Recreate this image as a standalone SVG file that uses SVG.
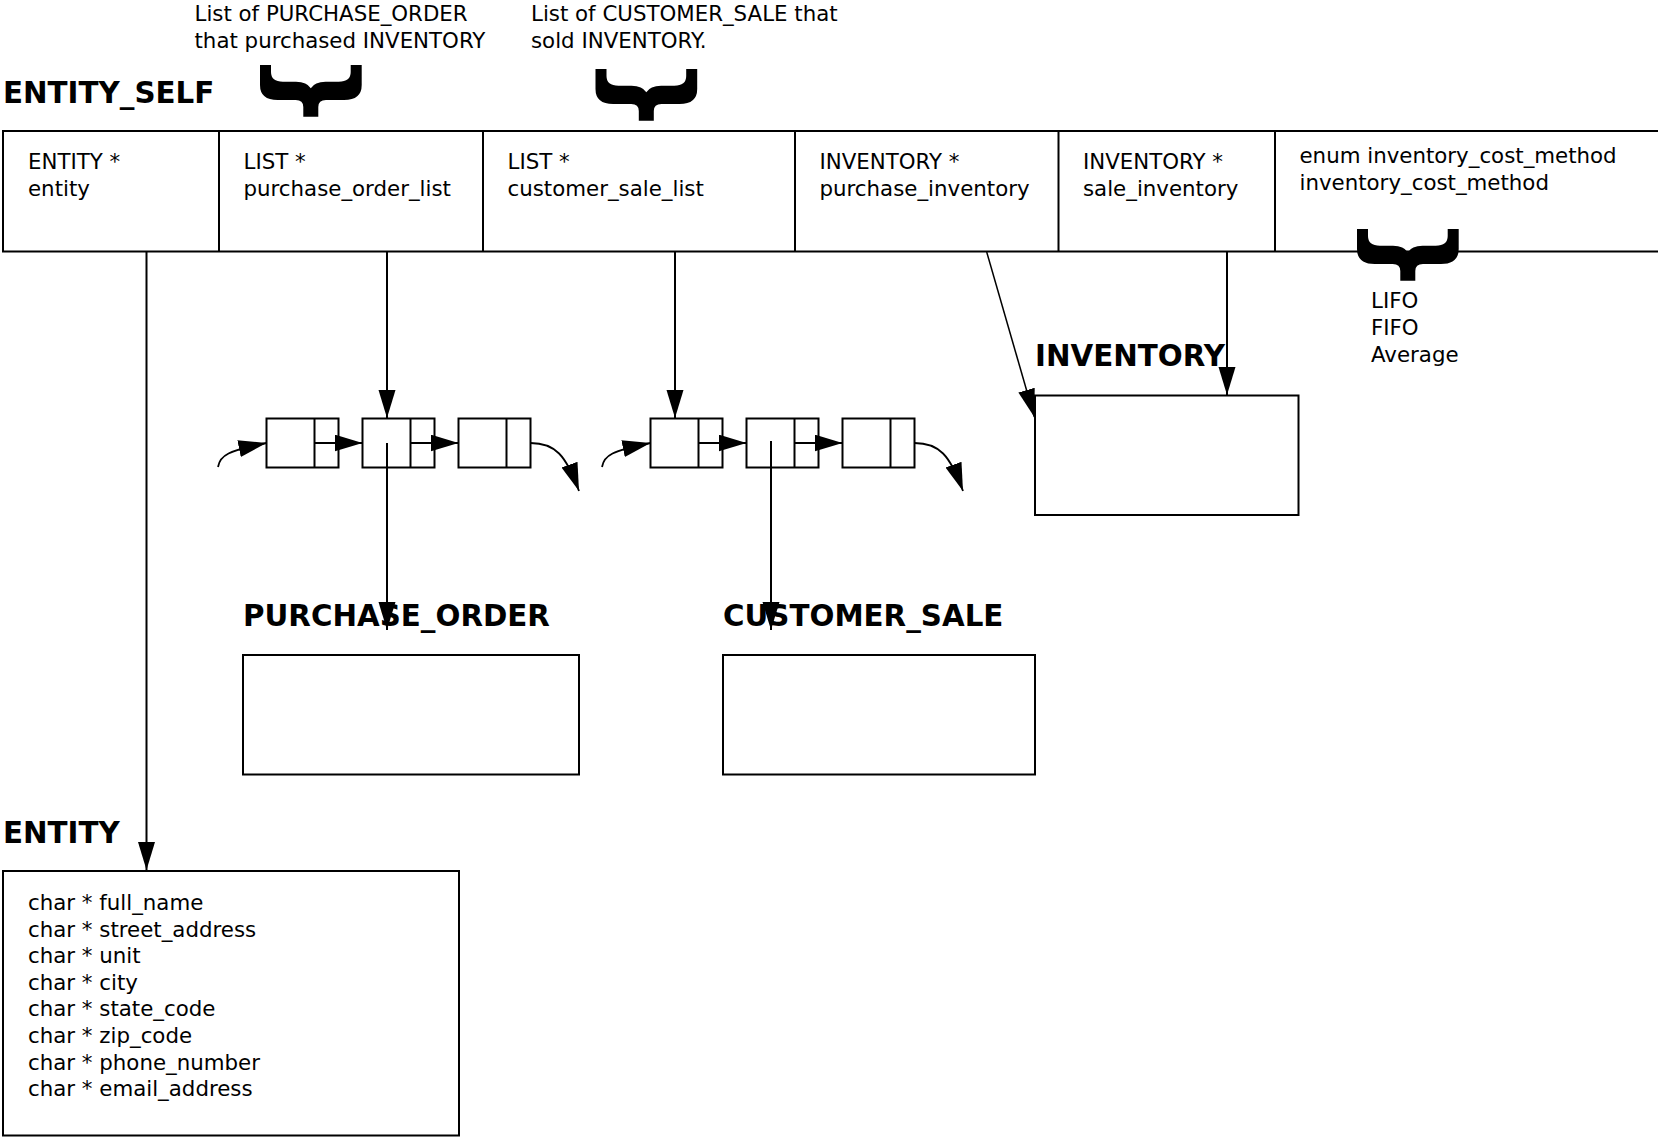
<svg xmlns="http://www.w3.org/2000/svg" width="1658" height="1137" viewBox="0 0 1658 1137">
<style>
text{font-family:"DejaVu Sans","Liberation Sans",sans-serif;fill:#000}
.t{font-size:21.33px}
.h{font-size:29.33px;font-weight:bold}
.box{fill:#fff;stroke:#000;stroke-width:2}
.ln{fill:none;stroke:#000;stroke-width:2}
.c{fill:none;stroke:#000;stroke-width:1.8}
.brace{fill:#000}
</style>
<defs>
<marker id="arr" markerUnits="userSpaceOnUse" markerWidth="30" markerHeight="18" refX="28" refY="8.5" orient="auto" viewBox="0 0 30 18">
<path d="M0,0 L28,8.5 L0,17 Z" fill="#000"/>
</marker>
<path id="br" class="brace" d="M0,0 H11 V7 Q11,16.7 23,16.7 H36 Q47,16.7 50.8,23.3 Q54.6,16.7 65.6,16.7 H78.7 Q90.7,16.7 90.7,7 V0 H101.7 V20 Q101.7,35 84,35 H66 Q58.3,35 58.3,42 V51.7 H43.3 V42 Q43.3,35 35.7,35 H17.7 Q0,35 0,20 Z"/>
</defs>
<rect width="1658" height="1137" fill="#fff"/>

<g id="notes">
<text class="t" x="194.5" y="21">List of PURCHASE_ORDER</text>
<text class="t" x="194.5" y="47.5">that purchased INVENTORY</text>
<text class="t" x="531" y="21">List of CUSTOMER_SALE that</text>
<text class="t" x="531" y="47.5">sold INVENTORY.</text>
<use href="#br" x="260" y="65"/>
<use href="#br" x="595.5" y="69"/>
<use href="#br" x="1357" y="229"/>
<text class="t" x="1371" y="308">LIFO</text>
<text class="t" x="1371" y="335">FIFO</text>
<text class="t" x="1371" y="362">Average</text>
</g>

<g id="entity_self">
<text class="h" x="3" y="103">ENTITY_SELF</text>
<path class="ln" d="M1660,131 H3 V251.5 H1660 M219,131 V251.5 M483,131 V251.5 M795,131 V251.5 M1058.5,131 V251.5 M1275,131 V251.5"/>
<text class="t" x="28" y="169">ENTITY *</text>
<text class="t" x="28" y="196">entity</text>
<text class="t" x="243.5" y="169">LIST *</text>
<text class="t" x="243.5" y="196">purchase_order_list</text>
<text class="t" x="507.5" y="169">LIST *</text>
<text class="t" x="507.5" y="196">customer_sale_list</text>
<text class="t" x="819.5" y="169">INVENTORY *</text>
<text class="t" x="819.5" y="196">purchase_inventory</text>
<text class="t" x="1083" y="169">INVENTORY *</text>
<text class="t" x="1083" y="196">sale_inventory</text>
<text class="t" x="1299.5" y="163">enum inventory_cost_method</text>
<text class="t" x="1299.5" y="190">inventory_cost_method</text>
</g>

<g id="po_list">
<rect class="box" x="266.5" y="418.5" width="72" height="49"/><path class="ln" d="M314.5,418.5 V467.5"/>
<rect class="box" x="362.5" y="418.5" width="72" height="49"/><path class="ln" d="M410.5,418.5 V467.5"/>
<rect class="box" x="458.5" y="418.5" width="72" height="49"/><path class="ln" d="M506.5,418.5 V467.5"/>
</g>

<g id="cs_list">
<rect class="box" x="650.5" y="418.5" width="72" height="49"/><path class="ln" d="M698.5,418.5 V467.5"/>
<rect class="box" x="746.5" y="418.5" width="72" height="49"/><path class="ln" d="M794.5,418.5 V467.5"/>
<rect class="box" x="842.5" y="418.5" width="72" height="49"/><path class="ln" d="M890.5,418.5 V467.5"/>
</g>

<g id="inventory">
<text class="h" x="1035" y="366">INVENTORY</text>
<rect class="box" x="1035" y="395.5" width="263.5" height="119.5"/>
</g>

<g id="purchase_order">
<text class="h" x="243" y="626">PURCHASE_ORDER</text>
<rect class="box" x="243" y="655" width="336" height="119.5"/>
</g>

<g id="customer_sale">
<text class="h" x="723" y="626">CUSTOMER_SALE</text>
<rect class="box" x="723" y="655" width="312" height="119.5"/>
</g>

<g id="entity">
<text class="h" x="3" y="843">ENTITY</text>
<rect class="box" x="3" y="871" width="456" height="264.5"/>
<text class="t" x="28" y="910">char * full_name</text>
<text class="t" x="28" y="936.6">char * street_address</text>
<text class="t" x="28" y="963.2">char * unit</text>
<text class="t" x="28" y="989.8">char * city</text>
<text class="t" x="28" y="1016.4">char * state_code</text>
<text class="t" x="28" y="1043">char * zip_code</text>
<text class="t" x="28" y="1069.6">char * phone_number</text>
<text class="t" x="28" y="1096.2">char * email_address</text>
</g>

<g id="connectors">
<path class="ln" d="M146.5,252 V870" marker-end="url(#arr)"/>
<path class="ln" d="M387,252 V418" marker-end="url(#arr)"/>
<path class="ln" d="M675,252 V418" marker-end="url(#arr)"/>
<path class="c" style="stroke-width:1.5" d="M986.7,252 L1034.3,417" marker-end="url(#arr)"/>
<path class="ln" d="M1227,252 V395" marker-end="url(#arr)"/>
<path class="ln" d="M314.5,443 H362.5" marker-end="url(#arr)"/>
<path class="ln" d="M410.5,443 H458.5" marker-end="url(#arr)"/>
<path class="ln" d="M698.5,443 H746.5" marker-end="url(#arr)"/>
<path class="ln" d="M794.5,443 H842.5" marker-end="url(#arr)"/>
<path class="c" d="M218,467 C220,455 228,451 266.5,443" marker-end="url(#arr)"/>
<path class="c" d="M602,467 C604,455 612,451 650.5,443" marker-end="url(#arr)"/>
<path class="c" d="M530.5,443 C555,443 566,455 579,491" marker-end="url(#arr)"/>
<path class="c" d="M914.5,443 C939,443 950,455 963,491" marker-end="url(#arr)"/>
<path class="ln" d="M387,443 V630" marker-end="url(#arr)"/>
<path class="ln" d="M771,441 V630" marker-end="url(#arr)"/>
</g>
</svg>
